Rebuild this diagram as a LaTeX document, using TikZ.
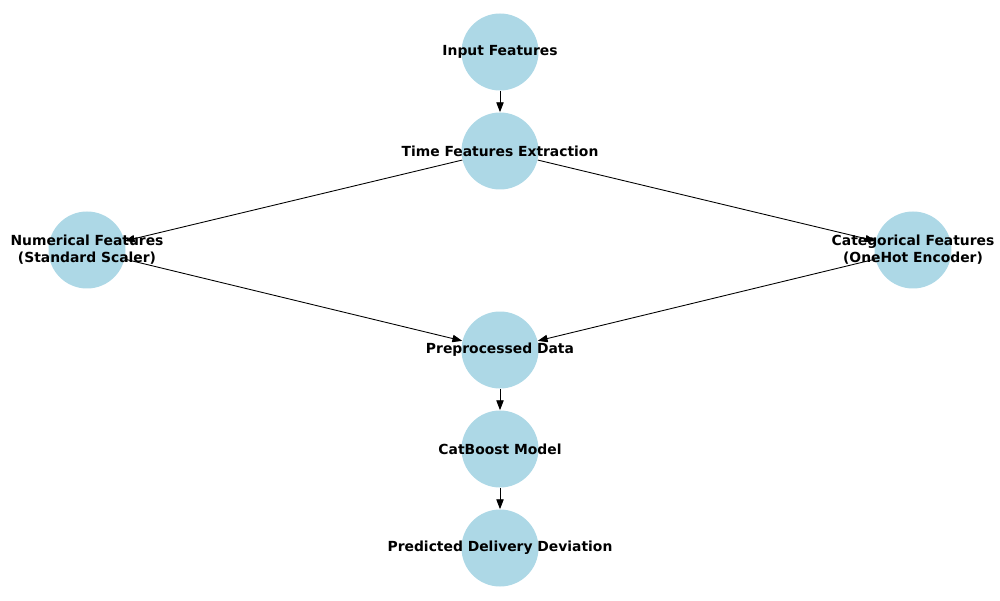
\documentclass[tikz,border=0pt]{standalone}
\usepackage{fontspec}
\setmainfont{DejaVu Sans}
\usepackage{xcolor}
\usepackage{tikz}
\usetikzlibrary{arrows.meta}
\definecolor{nodeblue}{RGB}{173,216,230}

\tikzset{
    stage/.style={circle, fill=nodeblue, minimum size=1.54cm, inner sep=0pt},
    stagetext/.style={font=\fontsize{7.9}{9.6}\selectfont\bfseries, align=center, inner sep=0pt},
    flow/.style={-{Stealth[length=5.6pt, width=4.2pt, inset=0pt]}, line width=0.5pt}
}

\begin{document}
\begin{tikzpicture}
    \useasboundingbox (0,0) rectangle (20,12);

    % Circles
    \node[stage] (inp) at (10,10.96) {};
    \node[stage] (time) at (10,8.98) {};
    \node[stage] (num) at (1.74,7.0) {};
    \node[stage] (cat) at (18.26,7.0) {};
    \node[stage] (prep) at (10,5.0) {};
    \node[stage] (model) at (10,3.02) {};
    \node[stage] (pred) at (10,1.04) {};

    % Edges
    \draw[flow] (inp) -- (time);
    \draw[flow] (time) -- (num);
    \draw[flow] (time) -- (cat);
    \draw[flow] (num) -- (prep);
    \draw[flow] (cat) -- (prep);
    \draw[flow] (prep) -- (model);
    \draw[flow] (model) -- (pred);

    % Labels
    \node[stagetext] (inp-t) at (inp) {Input Features};
    \node[stagetext] (time-t) at (time) {Time Features Extraction};
    \node[stagetext] (num-t) at (num) {Numerical Features\\(Standard Scaler)};
    \node[stagetext] (cat-t) at (cat) {Categorical Features\\(OneHot Encoder)};
    \node[stagetext] (prep-t) at (prep) {Preprocessed Data};
    \node[stagetext] (model-t) at (model) {CatBoost Model};
    \node[stagetext] (pred-t) at (pred) {Predicted Delivery Deviation};
\end{tikzpicture}
\end{document}
